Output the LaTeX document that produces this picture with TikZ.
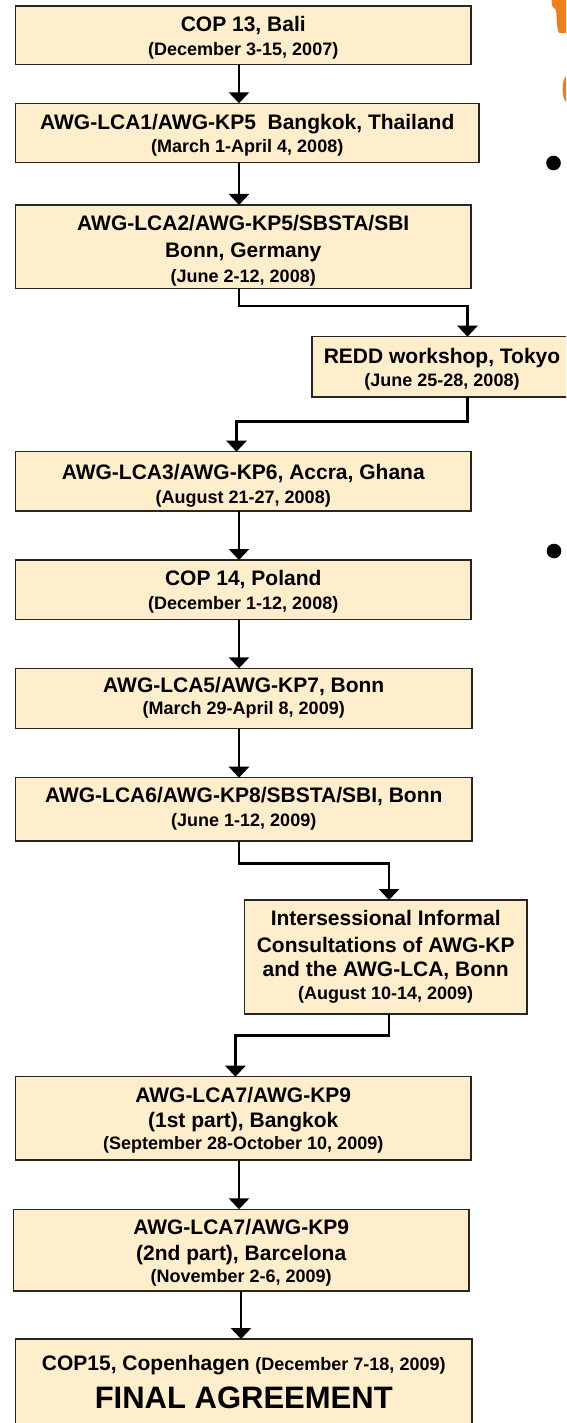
\documentclass[tikz,border=0pt]{standalone}
\usepackage{fontspec}
\setmainfont{Liberation Sans}
\usetikzlibrary{arrows.meta}
\definecolor{boxfill}{HTML}{FFEECC}
\definecolor{boxline}{HTML}{262626}
\definecolor{slideorange}{HTML}{F07D1A}
\tikzset{
  box/.style={draw=boxline, line width=1.5pt, fill=boxfill, inner sep=0pt, outer sep=0pt},
  ttl/.style={font=\fontsize{21}{25}\selectfont\bfseries, anchor=base, inner sep=0pt},
  dt/.style={font=\fontsize{18}{22}\selectfont\bfseries, anchor=base, inner sep=0pt},
  big/.style={font=\fontsize{31}{36}\selectfont\bfseries, anchor=base, inner sep=0pt},
  arr/.style={line width=2.8pt, -{Triangle[width=20pt,length=11pt]}},
  bullet/.style={circle, fill=black, inner sep=0pt, minimum size=14.6pt}
}
\begin{document}
\begin{tikzpicture}[x=1pt,y=-1pt]
\useasboundingbox (0,0) rectangle (566,1423);
\clip (0,0) rectangle (566,1423);

% orange fragments of the slide title
\fill[slideorange] (551.5,0) -- (566,0) -- (566,33) -- (559,33)
  .. controls (556,26) and (557,16) .. (556,10) -- (552,6) -- cycle;
\fill[slideorange] (566,76.5) .. controls (561.5,80) and (561.5,98) .. (566,102) -- cycle;

% bullets
\node[bullet] (p1) at (553.5,163) {};
\node[bullet] (p2) at (554,551) {};

% column coordinates
\coordinate (c1) at (239,0);
\coordinate (c2) at (241,0);
\coordinate (k1) at (467.5,306);
\coordinate (k2) at (236.5,421.7);
\coordinate (k3) at (389,863.3);
\coordinate (k4) at (235.4,1035.3);

% boxes
\node[box, minimum width=455.5pt, minimum height=58.3pt] (b1) at (243.25,35.15) {};
\node[box, minimum width=463.5pt, minimum height=59pt] (b2) at (247.25,132.8) {};
\node[box, minimum width=455.5pt, minimum height=83.3pt] (b3) at (243.25,246.65) {};
\node[box, minimum width=260pt, minimum height=60.3pt] (b4) at (442,366.85) {};
\node[box, minimum width=455.5pt, minimum height=59.3pt] (b5) at (243.25,481.35) {};
\node[box, minimum width=455.5pt, minimum height=59.3pt] (b6) at (243.25,589.65) {};
\node[box, minimum width=456.5pt, minimum height=60pt] (b7) at (243.75,698.3) {};
\node[box, minimum width=456.5pt, minimum height=63.3pt] (b8) at (243.75,809.35) {};
\node[box, minimum width=282.6pt, minimum height=114pt] (b9) at (385.7,957) {};
\node[box, minimum width=455.5pt, minimum height=83.3pt] (b10) at (243.25,1118.35) {};
\node[box, minimum width=455.6pt, minimum height=81.7pt] (b11) at (241.2,1250.15) {};
\node[box, minimum width=456.5pt, minimum height=101pt] (b12) at (243.75,1389.5) {};

% texts
\node[ttl] (t1a) at (243.25,31.8) {COP 13, Bali};
\node[dt]  (t1b) at (243.25,55.7) {(December 3-15, 2007)};
\node[ttl] (t2a) at (247.25,129.2) {AWG-LCA1/AWG-KP5\ \ Bangkok, Thailand};
\node[dt]  (t2b) at (247.25,152.4) {(March 1-April 4, 2008)};
\node[ttl] (t3a) at (243.25,230.2) {AWG-LCA2/AWG-KP5/SBSTA/SBI};
\node[ttl] (t3b) at (243.25,257.5) {Bonn, Germany};
\node[dt]  (t3c) at (243.25,282.4) {(June 2-12, 2008)};
\node[ttl] (t4a) at (442,363.5) {REDD workshop, Tokyo};
\node[dt]  (t4b) at (442,386.4) {(June 25-28, 2008)};
\node[ttl] (t5a) at (243.25,479.2) {AWG-LCA3/AWG-KP6, Accra, Ghana};
\node[dt]  (t5b) at (243.25,503.1) {(August 21-27, 2008)};
\node[ttl] (t6a) at (243.25,585.8) {COP 14, Poland};
\node[dt]  (t6b) at (243.25,609.1) {(December 1-12, 2008)};
\node[ttl] (t7a) at (243.75,692.5) {AWG-LCA5/AWG-KP7, Bonn};
\node[dt]  (t7b) at (243.75,714.7) {(March 29-April 8, 2009)};
\node[ttl] (t8a) at (243.75,802.5) {AWG-LCA6/AWG-KP8/SBSTA/SBI, Bonn};
\node[dt]  (t8b) at (243.75,826.4) {(June 1-12, 2009)};
\node[ttl] (t9a) at (385.7,925.8) {Intersessional Informal};
\node[ttl] (t9b) at (385.7,952.5) {Consultations of AWG-KP};
\node[ttl] (t9c) at (385.7,976.8) {and the AWG-LCA, Bonn};
\node[dt]  (t9d) at (385.7,999.7) {(August 10-14, 2009)};
\node[ttl] (t10a) at (243.25,1102.5) {AWG-LCA7/AWG-KP9};
\node[ttl] (t10b) at (243.25,1127.5) {(1st part), Bangkok};
\node[dt]  (t10c) at (243.25,1149.7) {(September 28-October 10, 2009)};
\node[ttl] (t11a) at (241.2,1234.8) {AWG-LCA7/AWG-KP9};
\node[ttl] (t11b) at (241.2,1260.2) {(2nd part), Barcelona};
\node[dt]  (t11c) at (241.2,1282.4) {(November 2-6, 2009)};
\node[ttl] (t12a) at (243.75,1370.5) {COP15, Copenhagen {\fontsize{18}{22}\selectfont(December 7-18, 2009)}};
\node[big] (t12b) at (243.75,1408.6) {FINAL AGREEMENT};

% connectors
\draw[arr] (b1.south -| c1) -- (b2.north -| c1);
\draw[arr] (b2.south -| c1) -- (b3.north -| c1);
\draw[arr] (b3.south -| c1) |- (k1) -- (b4.north -| k1);
\draw[arr] (b4.south -| k1) |- (k2) -- (b5.north -| k2);
\draw[arr] (b5.south -| c1) -- (b6.north -| c1);
\draw[arr] (b6.south -| c1) -- (b7.north -| c1);
\draw[arr] (b7.south -| c1) -- (b8.north -| c1);
\draw[arr] (b8.south -| c1) |- (k3) -- (b9.north -| k3);
\draw[arr] (b9.south -| k3) |- (k4) -- (b10.north -| k4);
\draw[arr] (b10.south -| c1) -- (b11.north -| c1);
\draw[arr] (b11.south -| c2) -- (b12.north -| c2);
\end{tikzpicture}
\end{document}
